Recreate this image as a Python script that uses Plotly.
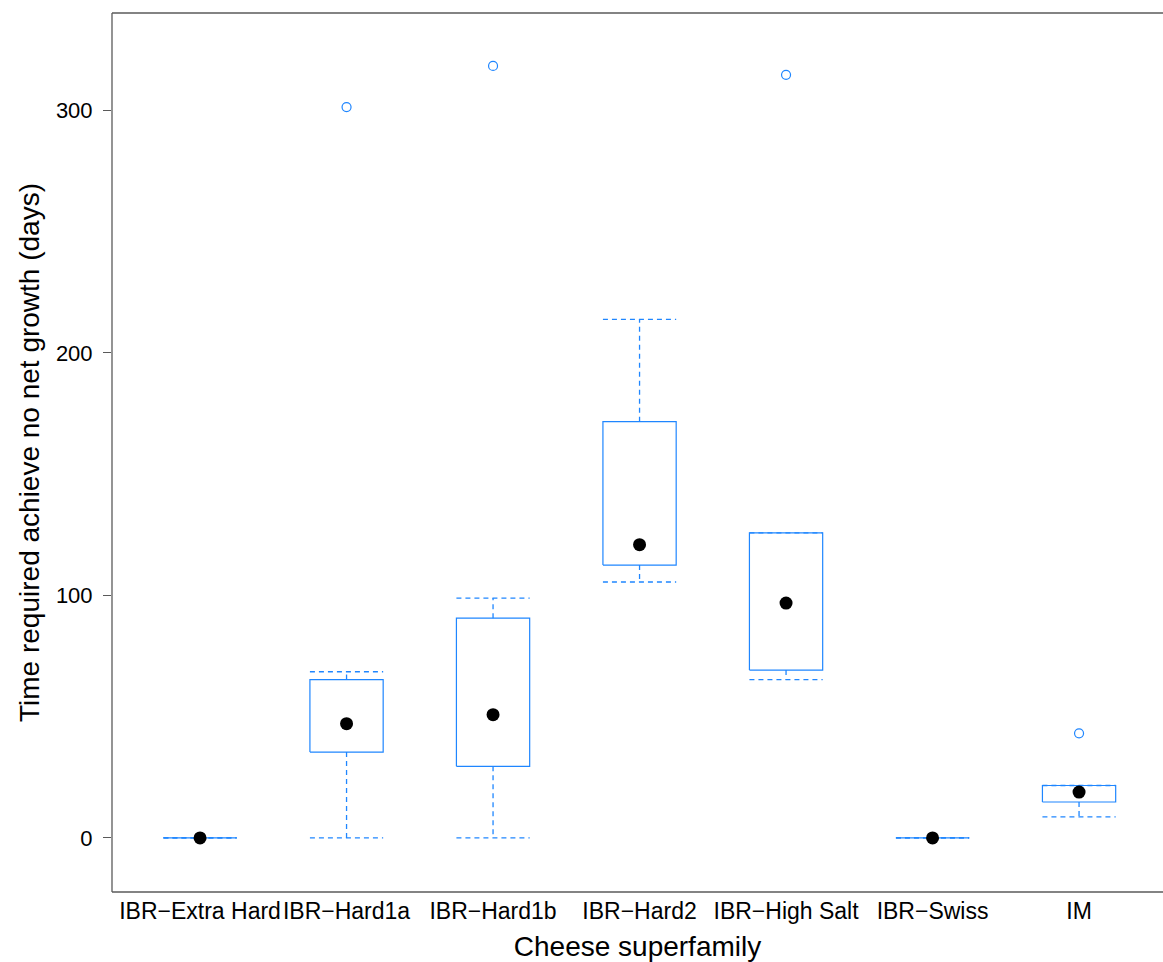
import plotly.graph_objects as go

# Cheese superfamilies and the box-and-whisker summaries (days)
categories = ["IBR−Extra Hard", "IBR−Hard1a", "IBR−Hard1b", "IBR−Hard2",
              "IBR−High Salt", "IBR−Swiss", "IM"]
lower_whisker = [0, 0, 0, 105.5, 65.3, 0, 8.7]
q1 = [0, 35.4, 29.5, 112.5, 69.2, 0, 14.8]
median = [0, 47.1, 50.8, 120.9, 96.8, 0, 18.9]
q3 = [0, 65.3, 90.6, 171.6, 125.8, 0, 21.6]
upper_whisker = [0, 68.5, 98.9, 213.8, 125.8, 0, 21.6]
outlier_group = ["IBR−Hard1a", "IBR−Hard1b", "IBR−High Salt", "IM"]
outlier_value = [301.3, 318.3, 314.6, 43.1]

BOX_COL = "#1f86ff"
FRAME_COL = "#5a5a5a"
HALF = 0.25          # half box width in category units
FONT = "Liberation Sans, Arial, sans-serif"

pos = list(range(1, len(categories) + 1))

# dashed whiskers with caps
wx, wy = [], []
for p, lo, a, b, hi in zip(pos, lower_whisker, q1, q3, upper_whisker):
    wx += [p, p, None, p - HALF, p + HALF, None]
    wy += [a, lo, None, lo, lo, None]
    wx += [p, p, None, p - HALF, p + HALF, None]
    wy += [b, hi, None, hi, hi, None]

# box rectangles
bx, by = [], []
for p, a, b in zip(pos, q1, q3):
    bx += [p - HALF, p + HALF, p + HALF, p - HALF, p - HALF, None]
    by += [a, a, b, b, a, None]

fig = go.Figure()
fig.add_trace(go.Scatter(x=wx, y=wy, mode="lines", hoverinfo="skip",
                         line=dict(color=BOX_COL, width=1.3, dash="5px,4px")))
fig.add_trace(go.Scatter(x=bx, y=by, mode="lines", hoverinfo="skip",
                         line=dict(color=BOX_COL, width=1.2)))
fig.add_trace(go.Scatter(x=pos, y=median, mode="markers",
                         marker=dict(color="black", size=13)))
fig.add_trace(go.Scatter(
    x=[categories.index(g) + 1 for g in outlier_group], y=outlier_value,
    mode="markers",
    marker=dict(symbol="circle-open", size=9, color=BOX_COL,
                line=dict(width=1.2, color=BOX_COL))))

# open panel frame: left, top and bottom edges
frame = dict(type="line", xref="paper", yref="paper", layer="above",
             line=dict(color=FRAME_COL, width=1.3))
fig.add_shape(frame, x0=0, x1=0, y0=0, y1=1)
fig.add_shape(frame, x0=0, x1=1, y0=1, y1=1)
fig.add_shape(frame, x0=0, x1=1, y0=0, y1=0)

fig.update_layout(
    width=1163, height=962,
    margin=dict(l=112, r=0, t=13, b=70),
    paper_bgcolor="white", plot_bgcolor="white",
    showlegend=False,
    font=dict(family=FONT, color="black"),
    xaxis=dict(
        range=[0.399, 7.573],
        tickvals=pos, ticktext=categories, tickangle=0,
        ticks="", showgrid=False, zeroline=False, showline=False,
        tickfont=dict(size=23, family=FONT, color="black"),
        ticklabelstandoff=3,
        title=dict(text="Cheese superfamily", standoff=15,
                   font=dict(size=28, family=FONT, color="black")),
    ),
    yaxis=dict(
        range=[-22.3, 340.1],
        tickvals=[0, 100, 200, 300],
        ticks="outside", ticklen=8, tickwidth=1.3, tickcolor=FRAME_COL,
        showgrid=False, zeroline=False, showline=False,
        tickfont=dict(size=22, family=FONT, color="black"),
        ticklabelstandoff=6,
        title=dict(text="Time required achieve no net growth (days)",
                   standoff=8,
                   font=dict(size=28, family=FONT, color="black")),
    ),
)

fig.write_html("out.html")
